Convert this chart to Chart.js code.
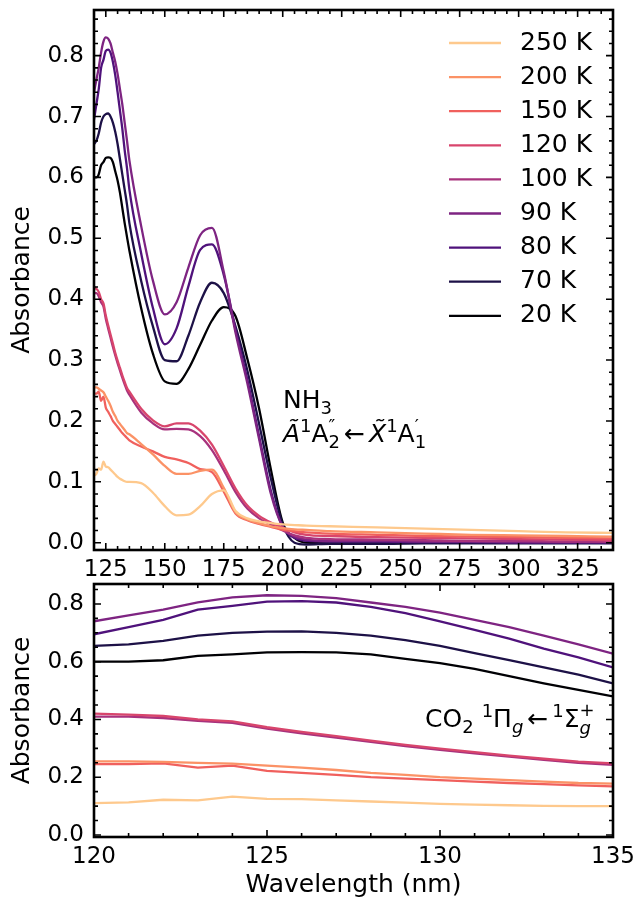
<!DOCTYPE html>
<html>
<head>
<meta charset="utf-8">
<script src="https://cdn.jsdelivr.net/npm/chart.js@4.4.1/dist/chart.umd.min.js"></script>
<style>
  html, body { margin: 0; padding: 0; background: #fff; }
  #wrap { position: relative; width: 638px; height: 903px; }
  canvas { position: absolute; left: 0; }
  #topChart { top: 0; }
  #bottomChart { top: 580px; }
</style>
</head>
<body>
<div id="wrap">
  <canvas id="topChart" width="638" height="580"></canvas>
  <canvas id="bottomChart" width="638" height="323"></canvas>
</div>
<script>
// wavelength grid (nm): 1 nm steps up to 135, coarser after
const wavelength = [120, 121, 122, 123, 124, 125, 126, 127, 128, 129, 130, 131, 132, 133, 134, 135,
  140, 145, 150, 155, 160, 165, 170, 175, 180, 185, 190, 195, 200, 205, 210,
  220, 240, 260, 280, 300, 320, 340];

const temps = ['250 K', '200 K', '150 K', '120 K', '100 K', '90 K', '80 K', '70 K', '20 K'];
const colors = ['#fec98d', '#fb9266', '#f0605d', '#d8456c', '#a8327d', '#7e2482', '#4f127b', '#1d1147', '#000004'];

const abs250 = [0.110, 0.113, 0.122, 0.120, 0.133, 0.125, 0.124, 0.120, 0.116, 0.112, 0.108, 0.105, 0.103, 0.101, 0.100, 0.100,
  0.098, 0.082, 0.060, 0.045, 0.046, 0.060, 0.080, 0.086, 0.052, 0.040, 0.035, 0.032, 0.030, 0.029, 0.028,
  0.027, 0.025, 0.023, 0.021, 0.019, 0.017, 0.016];
const abs200 = [0.255, 0.255, 0.253, 0.250, 0.247, 0.240, 0.233, 0.225, 0.215, 0.208, 0.200, 0.195, 0.190, 0.185, 0.180, 0.178,
  0.162, 0.145, 0.126, 0.113, 0.113, 0.118, 0.120, 0.090, 0.050, 0.038, 0.032, 0.027, 0.024, 0.022, 0.021,
  0.019, 0.017, 0.015, 0.013, 0.012, 0.011, 0.010];
const abs150 = [0.245, 0.245, 0.248, 0.233, 0.240, 0.222, 0.215, 0.208, 0.200, 0.195, 0.190, 0.185, 0.180, 0.176, 0.172, 0.168,
  0.158, 0.150, 0.141, 0.137, 0.131, 0.121, 0.116, 0.084, 0.048, 0.037, 0.031, 0.026, 0.021, 0.019, 0.017,
  0.015, 0.013, 0.011, 0.010, 0.009, 0.008, 0.007];
const abs120 = [0.420, 0.417, 0.412, 0.400, 0.393, 0.373, 0.357, 0.342, 0.327, 0.312, 0.299, 0.287, 0.275, 0.264, 0.254, 0.248,
  0.220, 0.201, 0.191, 0.196, 0.196, 0.184, 0.161, 0.126, 0.089, 0.061, 0.044, 0.033, 0.025, 0.017, 0.013,
  0.011, 0.009, 0.008, 0.007, 0.006, 0.005, 0.004];
const abs100 = [0.410, 0.410, 0.405, 0.395, 0.388, 0.368, 0.352, 0.337, 0.322, 0.308, 0.295, 0.283, 0.271, 0.260, 0.250, 0.243,
  0.214, 0.196, 0.186, 0.187, 0.186, 0.175, 0.152, 0.119, 0.083, 0.056, 0.040, 0.030, 0.020, 0.012, 0.008,
  0.006, 0.005, 0.004, 0.003, 0.003, 0.002, 0.002];
const abs90 = [0.740, 0.760, 0.780, 0.805, 0.823, 0.830, 0.828, 0.820, 0.805, 0.790, 0.770, 0.745, 0.720, 0.690, 0.660, 0.628,
  0.520, 0.430, 0.375, 0.395, 0.452, 0.505, 0.517, 0.445, 0.345, 0.262, 0.170, 0.080, 0.026, 0.010, 0.005,
  0.003, 0.003, 0.002, 0.002, 0.001, 0.001, 0.001];
const abs80 = [0.695, 0.720, 0.745, 0.780, 0.793, 0.808, 0.810, 0.805, 0.790, 0.768, 0.740, 0.710, 0.680, 0.645, 0.615, 0.580,
  0.475, 0.385, 0.326, 0.352, 0.421, 0.481, 0.490, 0.440, 0.350, 0.268, 0.175, 0.085, 0.026, 0.008, 0.003,
  0.002, 0.002, 0.001, 0.001, 0.000, 0.000, 0.000];
const abs70 = [0.655, 0.660, 0.672, 0.690, 0.700, 0.704, 0.705, 0.700, 0.690, 0.675, 0.655, 0.630, 0.605, 0.580, 0.555, 0.525,
  0.430, 0.355, 0.300, 0.298, 0.340, 0.395, 0.427, 0.410, 0.355, 0.283, 0.195, 0.105, 0.030, 0.000, -0.003,
  -0.002, -0.002, -0.001, -0.001, -0.001, -0.001, -0.001];
const abs20 = [0.600, 0.600, 0.605, 0.620, 0.625, 0.632, 0.633, 0.632, 0.625, 0.610, 0.595, 0.575, 0.550, 0.525, 0.502, 0.480,
  0.385, 0.310, 0.265, 0.261, 0.285, 0.325, 0.365, 0.387, 0.372, 0.302, 0.220, 0.120, 0.033, 0.008, 0.000,
  -0.001, -0.001, 0.000, 0.000, 0.000, 0.000, 0.000];
const seriesList = [abs250, abs200, abs150, abs120, abs100, abs90, abs80, abs70, abs20];

const topXTicks = [125, 150, 175, 200, 225, 250, 275, 300, 325];
const topYTicks = [0, 0.1, 0.2, 0.3, 0.4, 0.5, 0.6, 0.7, 0.8];
const bottomXTicks = [120, 125, 130, 135];
const bottomYTicks = [0, 0.2, 0.4, 0.6, 0.8];

const FONT = "'DejaVu Sans', sans-serif";
Chart.defaults.font.family = FONT;
Chart.defaults.font.size = 23;
Chart.defaults.color = '#000';

function fontOf(p) {
  return (p.it ? 'italic ' : '') + (p.size || 25) + 'px ' + FONT;
}

// draws text with sub/superscripts, left to right from (x, y) baseline
function drawRich(ctx, x, y, parts) {
  ctx.textAlign = 'left';
  ctx.textBaseline = 'alphabetic';
  parts.forEach(p => {
    x += p.pre || 0;
    if (p.stack) {
      let w = 0;
      p.stack.forEach(s => {
        ctx.font = fontOf(s);
        ctx.fillText(s.t, x, y + (s.dy || 0));
        w = Math.max(w, ctx.measureText(s.t).width);
      });
      x += w;
    } else {
      ctx.font = fontOf(p);
      ctx.fillText(p.t, x, y + (p.dy || 0));
      x += ctx.measureText(p.t).width;
    }
    x += p.gap || 0;
  });
}

// frame with inward ticks on all four sides, legend and notes
const framePlugin = {
  id: 'frame',
  afterDatasetsDraw(chart, args, opts) {
    const { ctx, chartArea: a, scales: { x, y } } = chart;
    ctx.save();
    ctx.strokeStyle = '#000';
    ctx.lineWidth = 1.6;
    ctx.beginPath();
    [[opts.xMinor, 4], [opts.xMajor, 7]].forEach(([step, len]) => {
      for (let k = Math.ceil(x.min / step - 1e-6); k * step <= x.max + 1e-6; k++) {
        const px = x.getPixelForValue(k * step);
        ctx.moveTo(px, a.bottom); ctx.lineTo(px, a.bottom - len);
        ctx.moveTo(px, a.top); ctx.lineTo(px, a.top + len);
      }
    });
    [[opts.yMinor, 4], [opts.yMajor, 7]].forEach(([step, len]) => {
      for (let k = Math.ceil(y.min / step - 1e-6); k * step <= y.max + 1e-6; k++) {
        const py = y.getPixelForValue(k * step);
        ctx.moveTo(a.left, py); ctx.lineTo(a.left + len, py);
        ctx.moveTo(a.right, py); ctx.lineTo(a.right - len, py);
      }
    });
    ctx.stroke();
    ctx.lineWidth = 2.6;
    ctx.strokeRect(a.left, a.top, a.right - a.left, a.bottom - a.top);

    ctx.fillStyle = '#000';
    if (opts.legend) {
      chart.data.datasets.forEach((ds, i) => {
        const ly = a.top + 33 + i * 34.1;
        ctx.strokeStyle = ds.borderColor;
        ctx.lineWidth = 2.3;
        ctx.beginPath();
        ctx.moveTo(a.right - 164, ly);
        ctx.lineTo(a.right - 112, ly);
        ctx.stroke();
        ctx.font = '25px ' + FONT;
        ctx.textAlign = 'left';
        ctx.textBaseline = 'middle';
        ctx.fillText(ds.label, a.right - 93, ly);
      });
    }
    (opts.notes || []).forEach(n => {
      drawRich(ctx, x.getPixelForValue(n.x), y.getPixelForValue(n.y), n.parts);
    });
    ctx.restore();
  }
};

function makeDatasets(smooth) {
  return temps.map((t, i) => ({
    label: t,
    data: wavelength.map((w, j) => ({ x: w, y: seriesList[i][j] })),
    borderColor: colors[i],
    borderWidth: 2.3,
    pointRadius: 0,
    fill: false,
    tension: 0,
    cubicInterpolationMode: smooth ? 'monotone' : 'default'
  }));
}

function makeScales(cfg) {
  return {
    x: {
      type: 'linear', min: cfg.xMin, max: cfg.xMax,
      grid: { display: false, drawTicks: false }, border: { display: false },
      ticks: { autoSkip: false, maxRotation: 0, padding: 6, callback: v => String(v) },
      afterBuildTicks: s => { s.ticks = cfg.xTicks.map(v => ({ value: v })); },
      afterFit: s => { s.height = cfg.xHeight; s.paddingLeft = 0; s.paddingRight = 0; },
      title: { display: !!cfg.xTitle, text: cfg.xTitle || '', font: { size: 25 }, padding: { top: 0, bottom: 3 } }
    },
    y: {
      type: 'linear', min: cfg.yMin, max: cfg.yMax,
      grid: { display: false, drawTicks: false }, border: { display: false },
      ticks: { autoSkip: false, padding: 10, callback: v => v.toFixed(1) },
      afterBuildTicks: s => { s.ticks = cfg.yTicks.map(v => ({ value: v })); },
      afterFit: s => { s.width = 94; s.paddingTop = 0; s.paddingBottom = 0; },
      title: { display: true, text: 'Absorbance', font: { size: 25 }, padding: { top: 7, bottom: 0 } }
    }
  };
}

const S = 18; // script size
new Chart(document.getElementById('topChart'), {
  type: 'line',
  data: { datasets: makeDatasets(true) },
  options: {
    responsive: false, animation: false, devicePixelRatio: 1,
    layout: { padding: { left: 0, right: 25, top: 10, bottom: 0 } },
    scales: makeScales({ xMin: 120, xMax: 340, yMin: -0.012, yMax: 0.875, xTicks: topXTicks, yTicks: topYTicks, xHeight: 30 }),
    plugins: {
      legend: { display: false },
      tooltip: { enabled: false },
      frame: {
        xMajor: 25, xMinor: 5, yMajor: 0.1, yMinor: 0.02, legend: true,
        notes: [
          { x: 200.1, y: 0.222, parts: [{ t: 'NH' }, { t: '3', size: S, dy: 6 }] },
          { x: 200.1, y: 0.166, parts: [
            { t: 'Ã', it: true }, { t: '1', size: S, dy: -10 }, { t: 'A' },
            { stack: [{ t: '″', size: S, dy: -10 }, { t: '2', size: S, dy: 6 }] },
            { t: '←', pre: 4, gap: 4 },
            { t: 'X\u0303', it: true }, { t: '1', size: S, dy: -10 }, { t: 'A' },
            { stack: [{ t: '′', size: S, dy: -10 }, { t: '1', size: S, dy: 6 }] }
          ] }
        ]
      }
    }
  },
  plugins: [framePlugin]
});

new Chart(document.getElementById('bottomChart'), {
  type: 'line',
  data: { datasets: makeDatasets(false) },
  options: {
    responsive: false, animation: false, devicePixelRatio: 1,
    layout: { padding: { left: 0, right: 25, top: 4, bottom: 0 } },
    scales: makeScales({ xMin: 120, xMax: 135, yMin: -0.007, yMax: 0.869, xTicks: bottomXTicks, yTicks: bottomYTicks, xHeight: 66, xTitle: 'Wavelength (nm)' }),
    plugins: {
      legend: { display: false },
      tooltip: { enabled: false },
      frame: {
        xMajor: 5, xMinor: 1, yMajor: 0.2, yMinor: 0.05,
        notes: [
          { x: 129.57, y: 0.374, parts: [
            { t: 'CO' }, { t: '2', size: S, dy: 6 }, { t: ' ' },
            { t: '1', size: S, dy: -10 }, { t: 'Π' }, { t: 'g', it: true, size: S, dy: 6 },
            { t: '←', pre: 4, gap: 4 },
            { t: '1', size: S, dy: -10 }, { t: 'Σ' },
            { stack: [{ t: '+', size: S, dy: -11 }, { t: 'g', it: true, size: S, dy: 7 }] }
          ] }
        ]
      }
    }
  },
  plugins: [framePlugin]
});
</script>
</body>
</html>
